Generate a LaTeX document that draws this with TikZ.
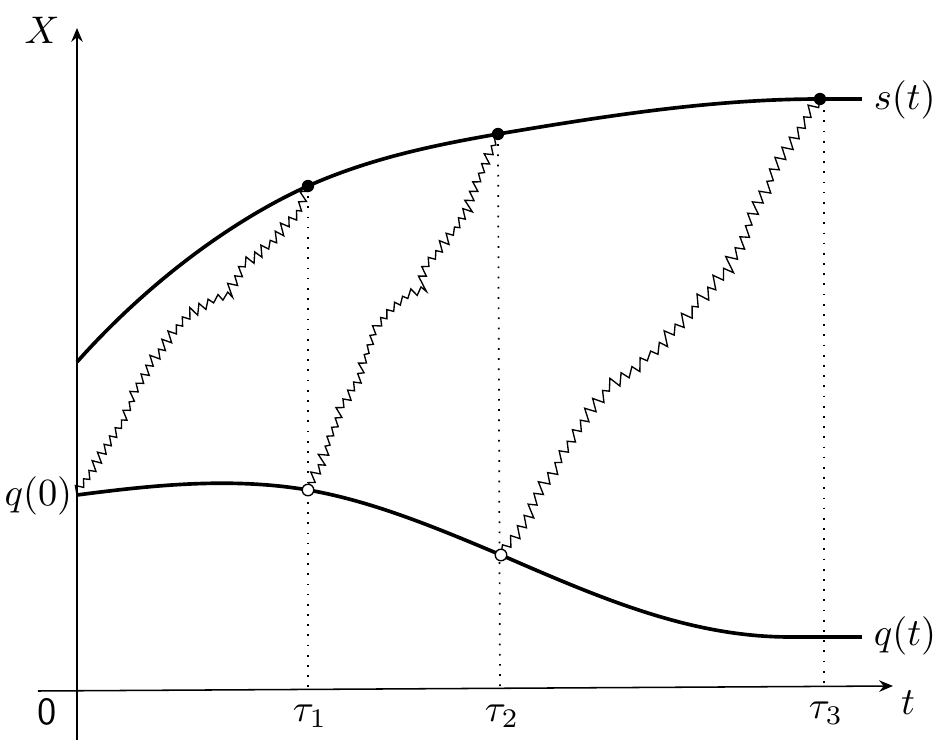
\documentclass[tikz,border=0pt]{standalone}
\usetikzlibrary{decorations,arrows.meta}
\pgfdeclaredecoration{sawtooth}{tooth}{
  \state{tooth}[switch if less than=\pgfdecorationsegmentlength to final,width=\pgfdecorationsegmentlength]{
    \pgfmathsetmacro\sawA{\pgfdecorationsegmentamplitude*(0.5+1.0*rnd)}
    \pgfmathsetmacro\sawB{\pgfdecorationsegmentamplitude*(0.3+0.6*rnd)}
    \pgfpathlineto{\pgfpoint{0.72*\pgfdecorationsegmentlength}{\sawA pt}}
    \pgfpathlineto{\pgfpoint{\pgfdecorationsegmentlength}{-\sawB pt}}
  }
  \state{final}{\pgfpathlineto{\pgfpointdecoratedpathlast}}
}
\begin{document}
\begin{tikzpicture}[x=0.26pt,y=-0.26pt,
 curve/.style={line width=0.95pt},
 axis/.style={line width=0.4pt,-{Stealth[length=3.6pt,width=3pt,inset=1.2pt]}},
 walk/.style 2 args={line width=0.35pt,line join=miter,decorate,decoration={sawtooth,segment length=#1,amplitude=#2}},
 guide/.style={line width=0.45pt,dash pattern=on 0.45pt off 2.2pt},
 fdot/.style={circle,fill=black,inner sep=0pt,minimum size=3.2pt},
 odot/.style={circle,draw=black,fill=white,line width=0.35pt,inner sep=0pt,minimum size=3pt},
 lab/.style={inner sep=0pt}]
\pgfmathsetseed{7}
\useasboundingbox (0,0) rectangle (946,747);
% axes
\coordinate (ybot) at (77,740);
\coordinate (ytop) at (77,28);
\coordinate (xl) at (38,691);
\coordinate (xr) at (893,686);
\draw[axis] (ybot) -- (ytop);
\draw[axis] (xl) -- (xr);
% key points
\coordinate (s0) at (77,362);
\coordinate (q0) at (77,495);
\coordinate (s1) at (308,186);
\coordinate (s2) at (498,134);
\coordinate (s3) at (820,99);
\coordinate (send) at (862,99);
\coordinate (q1) at (308,490);
\coordinate (q2) at (501,555);
\coordinate (qf) at (790,637);
\coordinate (qend) at (862,637);
\coordinate (t1) at (308,689);
\coordinate (t2) at (500,688);
\coordinate (t3) at (824,686);
\coordinate (s3g) at (824,100);
% guides
\draw[guide] (s1) -- (t1);
\draw[guide] (s2) -- (t2);
\draw[guide] (s3g) -- (t3);
% boundaries
\draw[curve] (s0) .. controls (150,280) and (235,219) .. (s1)
  .. controls (371,158) and (435,145) .. (s2)
  .. controls (605,116) and (713,99) .. (s3) -- (send);
\draw[curve] (q0) .. controls (154,485) and (231,477) .. (q1)
  .. controls (372,501) and (437,528) .. (q2)
  .. controls (600,598) and (690,637) .. (qf) -- (qend);
% walks
\draw[walk={2.6pt}{1.2pt}] (q0) -- (103,453) -- (123,423) -- (137,390) -- (150,367) -- (167,343) -- (187,317) -- (210,303) -- (227,297) -- (243,267) -- (257,257) -- (277,237) -- (300,210) -- (s1);
\draw[walk={2.6pt}{1.2pt}] (q1) -- (320,467) -- (340,413) -- (357,383) -- (377,327) -- (390,310) -- (403,300) -- (417,293) -- (427,267) -- (440,250) -- (453,233) -- (467,213) -- (480,177) -- (492,150) -- (s2);
\draw[walk={3.2pt}{1.5pt}] (q2) -- (513,540) -- (527,520) -- (547,483) -- (570,443) -- (590,413) -- (607,390) -- (630,373) -- (660,347) -- (690,313) -- (723,277) -- (740,247) -- (757,210) -- (773,177) -- (790,147) -- (807,120) -- (s3);
% dots
\node[fdot] (d1) at (s1) {};
\node[fdot] (d2) at (s2) {};
\node[fdot] (d3) at (s3) {};
\node[odot] (o1) at (q1) {};
\node[odot] (o2) at (q2) {};
% labels
\node[lab] (lX) at (42,30) {$X$};
\node[lab] (lt) at (908,703) {$t$};
\node[lab] (l0) at (47,712) {\sffamily 0};
\node[lab] (lt1) at (310,716) {$\tau_1$};
\node[lab] (lt2) at (502,716) {$\tau_2$};
\node[lab] (lt3) at (826,713) {$\tau_3$};
\node[lab,anchor=west] (ls) at (873,100) {$s(t)$};
\node[lab,anchor=west] (lq) at (873,636) {$q(t)$};
\node[lab,anchor=east] (lq0) at (73,496) {$q(0)$};
\end{tikzpicture}
\end{document}
